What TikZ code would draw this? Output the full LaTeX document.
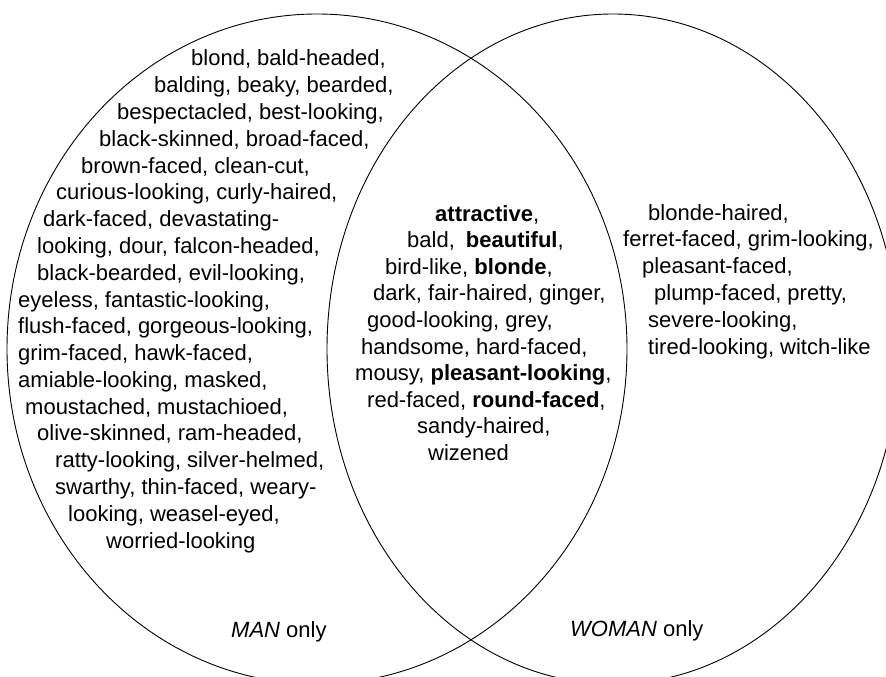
\documentclass[tikz,border=0pt]{standalone}
\usepackage{fontspec}
\setmainfont{Liberation Sans}
\usetikzlibrary{shapes.geometric}
\begin{document}
\begin{tikzpicture}[x=1pt,y=-1pt,
  set/.style={draw, ellipse, line width=0.9pt, inner sep=0pt},
  word/.style={anchor=base west, inner sep=0pt, font=\fontsize{22}{26.7}\selectfont}]
\useasboundingbox (0,0) rectangle (886,677);
\clip (0,0) rectangle (886,677);
\fill[white] (0,0) rectangle (886,677);
\node[set, minimum width=620pt, minimum height=670pt] (man) at (317,349) {};
\node[set, minimum width=572pt, minimum height=670pt] (woman) at (613,349) {};
% MAN only
\foreach \x/\t [count=\i] in {
  191/{blond, bald-headed,},
  154/{balding, beaky, bearded,},
  117/{bespectacled, best-looking,},
  99/{black-skinned, broad-faced,},
  81/{brown-faced, clean-cut,},
  56/{curious-looking, curly-haired,},
  43/{dark-faced, devastating-},
  37/{looking, dour, falcon-headed,},
  37/{black-bearded, evil-looking,},
  18/{eyeless, fantastic-looking,},
  18/{flush-faced, gorgeous-looking,},
  18/{grim-faced, hawk-faced,},
  18/{amiable-looking, masked,},
  25/{moustached, mustachioed,},
  37/{olive-skinned, ram-headed,},
  55/{ratty-looking, silver-helmed,},
  55/{swarthy, thin-faced, weary-},
  68/{looking, weasel-eyed,},
  106/{worried-looking}}
  \node[word] (m\i) at (\x,{66+(\i-1)*26.78}) {\t};
% both
\foreach \x/\t [count=\i] in {
  435/{\textbf{attractive},},
  407/{bald,\hspace{11pt}\textbf{beautiful},},
  385/{bird-like, \textbf{blonde},},
  373/{dark, fair-haired, ginger,},
  367/{good-looking, grey,},
  361/{handsome, hard-faced,},
  355/{mousy, \textbf{pleasant-looking},},
  367/{red-faced, \textbf{round-faced},},
  417/{sandy-haired,},
  428/{wizened}}
  \node[word] (b\i) at (\x,{221+(\i-1)*26.6}) {\t};
% WOMAN only
\foreach \x/\t [count=\i] in {
  648/{blonde-haired,},
  623/{ferret-faced, grim-looking,},
  642/{pleasant-faced,},
  654/{plump-faced, pretty,},
  648/{severe-looking,},
  648/{tired-looking, witch-like}}
  \node[word] (w\i) at (\x,{220+(\i-1)*26.9}) {\t};
\node[word] (manlabel) at (231,637) {\textit{MAN} only};
\node[word] (womanlabel) at (570,636) {\textit{WOMAN} only};
\end{tikzpicture}
\end{document}
